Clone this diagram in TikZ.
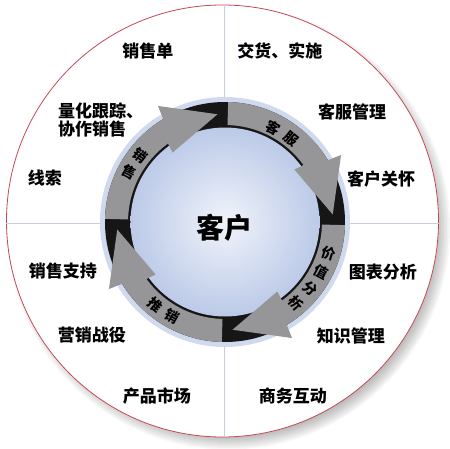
\documentclass[tikz,border=0pt]{standalone}
\usepackage{fontspec}
\newfontfamily\cjk{Noto Sans CJK SC}
\usetikzlibrary{positioning,calc}

\definecolor{rimred}{RGB}{196,72,84}
\definecolor{ringgrey}{RGB}{150,150,152}
\definecolor{ringdark}{RGB}{22,22,22}
\definecolor{halo}{RGB}{208,218,238}
\definecolor{quadline}{RGB}{200,206,226}
\definecolor{coreA}{RGB}{240,243,250}
\definecolor{coreB}{RGB}{188,202,232}

\tikzstyle{outer}=[font=\cjk\bfseries\fontsize{17}{18}\selectfont, inner sep=0pt, align=left]
\tikzstyle{ringch}=[font=\cjk\bfseries\fontsize{14}{14}\selectfont, inner sep=0pt]
\tikzstyle{coretxt}=[font=\cjk\bfseries\fontsize{28}{28}\selectfont, inner sep=0pt]

% grey arrow on the ring: #1 tail angle, #2 tip angle (clockwise)
\newcommand{\ringarrow}[2]{%
  \fill[ringgrey] (#1:120) arc[start angle=#1, end angle={#2+27}, radius=120]
    -- ({#2+26}:134) -- (#2:108) -- ({#2+33}:87) -- ({#2+32}:97)
    arc[start angle={#2+32}, end angle=#1, radius=97] -- cycle;}

\begin{document}
\begin{tikzpicture}[x=1pt,y=1pt]
  \useasboundingbox (-225,-226) rectangle (225,222);
  \coordinate (hub) at (0,0);
  \coordinate (rim) at (-2.5,1);
%
  % soft shadow and rim
  \foreach \k in {0,...,11}
    \fill[black, opacity=0.03] ($(rim)+(6,-7)$) circle[radius=205+1.5*\k];
  \fill[white] (rim) circle[radius=216];
  \draw[rimred, line width=0.8pt] (rim) circle[radius=216];
  \draw[quadline, line width=0.8pt] ($(rim)+(1.5,216)$) -- ($(rim)+(1.5,-216)$);
  \draw[quadline, line width=0.8pt] ($(rim)+(-216,-2)$) -- ($(rim)+(216,-2)$);
%
  % ring
  \fill[halo] (hub) circle[radius=125];
  \fill[ringdark] (hub) circle[radius=120];
  \shade[inner color=coreA, outer color=coreB] (hub) circle[radius=94.5];
  \ringarrow{178.5}{94}
  \ringarrow{88.5}{4}
  \ringarrow{-1.5}{-86}
  \ringarrow{-91.5}{-176}
%
  \node[coretxt] (core) at (0,-6) {客户};
  \foreach \ang/\ch [count=\i] in {142/销,152.5/售}
    \path (hub)++(\ang:108) node[ringch, rotate=\ang-180] (sale\i) {\ch};
  \foreach \ang/\ch [count=\i] in {63/客,51.5/服}
    \path (hub)++(\ang:106) node[ringch, rotate=\ang-90] (serv\i) {\ch};
  \foreach \ang/\ch [count=\i] in {-17/价,-27.5/值,-38/分,-48.5/析}
    \path (hub)++(\ang:108) node[ringch, rotate=\ang] (value\i) {\ch};
  \foreach \ang/\ch [count=\i] in {230/推,240.5/销}
    \path (hub)++(\ang:108) node[ringch, rotate=\ang-270] (push\i) {\ch};
%
  % outer labels
  \node[outer] (order) at (-77,171) {销售单};
  \node[outer, anchor=west] (track) at (-167,102) {量化跟踪、\\协作销售};
  \node[outer] (leads) at (-180,44) {线索};
  \node[outer] (support) at (-162,-49) {销售支持};
  \node[outer] (campaign) at (-133,-113) {营销战役};
  \node[outer] (market) at (-68,-174) {产品市场};
  \node[outer] (delivery) at (55,171) {交货、实施};
  \node[outer] (servmgmt) at (127,110) {客服管理};
  \node[outer] (care) at (156,43) {客户关怀};
  \node[outer] (charts) at (158,-50) {图表分析};
  \node[outer] (knowledge) at (126,-114) {知识管理};
  \node[outer] (interact) at (68,-174) {商务互动};
\end{tikzpicture}
\end{document}
